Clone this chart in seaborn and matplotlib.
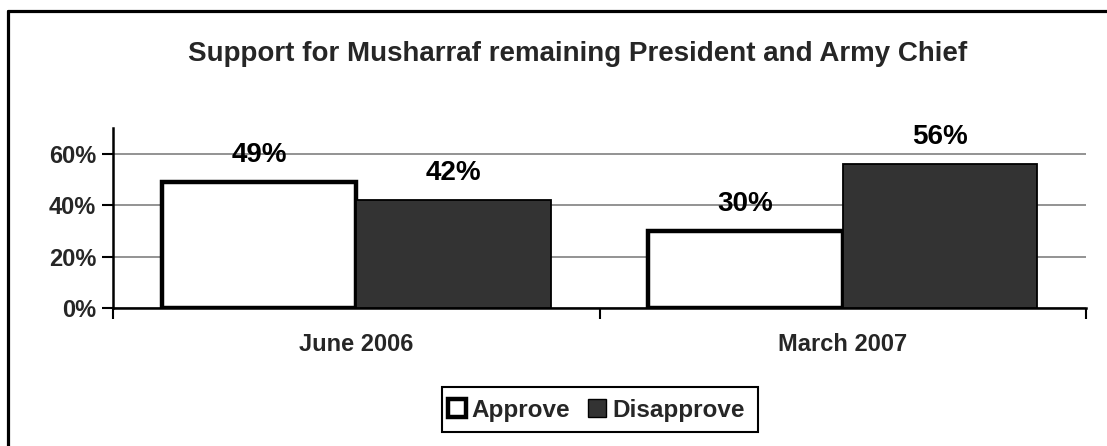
import matplotlib
matplotlib.use("Agg")
import matplotlib.pyplot as plt
from matplotlib.patches import Patch, Rectangle
from matplotlib.lines import Line2D
import seaborn as sns
import pandas as pd

# Survey results (percent)
periods = ["June 2006", "March 2007"]
responses = ["Approve", "Disapprove"]
approve = [49, 30]
disapprove = [42, 56]
y_ticks = [0, 20, 40, 60]
title = "Support for Musharraf remaining President and Army Chief"

df = pd.DataFrame({
    "period": periods * 2,
    "response": [responses[0]] * len(periods) + [responses[1]] * len(periods),
    "value": approve + disapprove,
})

sns.set_theme(style="white")
plt.rcParams["font.family"] = ["Liberation Sans", "DejaVu Sans"]
plt.rcParams["font.weight"] = "bold"

W, H = 1107, 446
fig = plt.figure(figsize=(W / 100, H / 100), dpi=100)
ax = fig.add_axes([113 / W, 1 - 308 / H, 973 / W, 180 / H])

palette = {"Approve": "#ffffff", "Disapprove": "#333333"}
sns.barplot(data=df, x="period", y="value", hue="response", order=periods,
            hue_order=responses, palette=palette, width=0.8, saturation=1,
            legend=False, ax=ax, zorder=3)

# Bar outlines: heavy frame for Approve, thin for Disapprove
for container, resp in zip(ax.containers, responses):
    for bar in container:
        bar.set_edgecolor("black")
        bar.set_linewidth(3.2 if resp == "Approve" else 1.3)
    ax.bar_label(container, labels=[f"{v:.0f}%" for v in container.datavalues],
                 padding=10, fontsize=20, fontweight="bold", color="black")

ax.set_xlim(-0.5, len(periods) - 0.5)
ax.set_ylim(0, 70)
ax.set_yticks(y_ticks)
ax.set_yticklabels([f"{t}%" for t in y_ticks], fontsize=17, fontweight="bold")
ax.yaxis.grid(True, color="#808080", linewidth=1.2, zorder=0)
ax.set_axisbelow(True)

# Category labels between boundary ticks
ax.set_xticks([i for i in range(len(periods))])
ax.set_xticklabels(periods, fontsize=17, fontweight="bold")
ax.tick_params(axis="x", which="major", length=0, pad=18)
ax.set_xticks([i - 0.5 for i in range(len(periods) + 1)], minor=True)
ax.tick_params(axis="x", which="minor", length=8, width=1.5, direction="out",
               color="black", bottom=True)
ax.tick_params(axis="y", length=8, width=1.5, direction="out", color="black",
               left=True, pad=4)
ax.set_xlabel("")
ax.set_ylabel("")

for side in ["top", "right"]:
    ax.spines[side].set_visible(False)
for side in ["left", "bottom"]:
    ax.spines[side].set_color("black")
    ax.spines[side].set_linewidth(1.8)

fig.text(578 / W, 1 - 54 / H, title, ha="center", va="center",
         fontsize=20, fontweight="bold")

# Legend entries with a separately drawn box
handles = [
    Patch(facecolor="#ffffff", edgecolor="black", linewidth=3.2),
    Patch(facecolor="#333333", edgecolor="black", linewidth=1),
]
leg = fig.legend(handles, responses, loc="center left",
                 bbox_to_anchor=(448 / W, 1 - 410 / H),
                 ncol=2, frameon=False, fontsize=17.5,
                 handlelength=0.72, handleheight=0.72, handletextpad=0.25,
                 columnspacing=0.75, borderpad=0, borderaxespad=0)
for t in leg.get_texts():
    t.set_fontweight("bold")
fig.add_artist(Rectangle((442 / W, 1 - 432 / H), 316 / W, 45 / H,
                         transform=fig.transFigure, facecolor="none",
                         edgecolor="black", linewidth=1.5))

# Chart-area frame (top and left edges)
fig.add_artist(Line2D([7.5 / W, 1.0], [1 - 10.5 / H, 1 - 10.5 / H], color="black",
                      linewidth=2.3, transform=fig.transFigure))
fig.add_artist(Line2D([7.5 / W, 7.5 / W], [0.0, 1 - 10.5 / H], color="black",
                      linewidth=2.3, transform=fig.transFigure))

fig.savefig("out.png", dpi=100, facecolor="white")
